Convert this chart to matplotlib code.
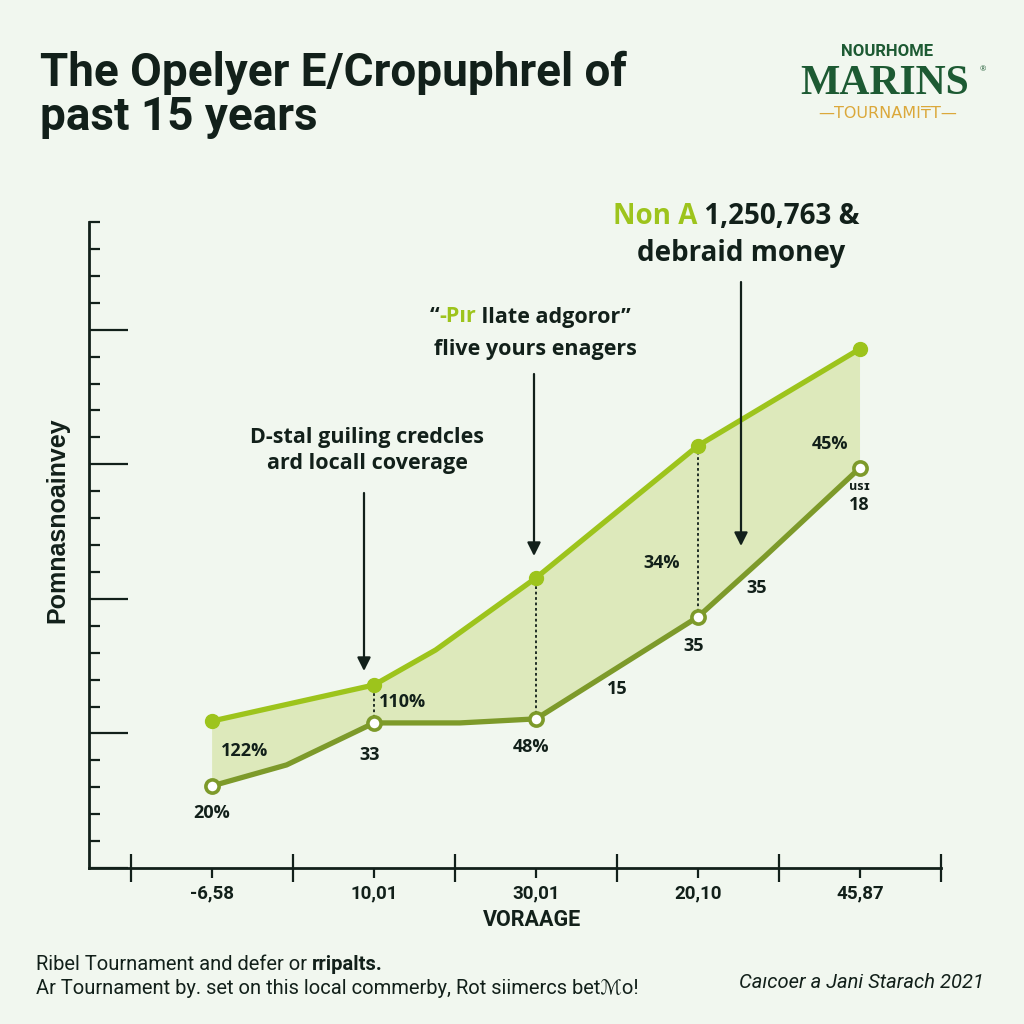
import numpy as np
import matplotlib
matplotlib.use("Agg")
import matplotlib.pyplot as plt
from matplotlib.patches import FancyArrowPatch
from matplotlib.ticker import MultipleLocator

# ---------------- data ----------------
x_labels = ["-6,58", "10,01", "30,01", "20,10", "45,87"]
x_pos = [1, 2, 3, 4, 5]

upper_x = [1, 2, 2.38, 3, 4, 5]
upper_y = [5.46, 6.80, 8.10, 10.78, 15.69, 19.29]

lower_x = [1, 1.46, 2, 2.53, 3, 4, 4.41, 5]
lower_y = [3.05, 3.83, 5.39, 5.39, 5.54, 9.33, 11.56, 14.87]

value_labels = ["122%", "20%", "110%", "33", "48%", "15", "34%", "35", "35", "45%", "18"]

# ---------------- style ----------------
BG = "#f1f7ef"
UP = "#9dc41c"
LOW = "#7d9a2a"
FILL = "#dde9bb"
DARK = "#12201a"

plt.rcParams['font.family'] = ['Open Sans', 'DejaVu Sans']

fig = plt.figure(figsize=(10.24, 10.24), dpi=100, facecolor=BG)

def P(px, py):
    return (px / 1024.0, 1 - py / 1024.0)

L, R, T, B = 89, 941, 222, 868
ax = fig.add_axes([L / 1024, 1 - B / 1024, (R - L) / 1024, (B - T) / 1024])
ax.set_facecolor(BG)
ax.set_xlim(0.24, 5.5)
ax.set_ylim(0, 24)

for s in ["top", "right"]:
    ax.spines[s].set_visible(False)
for s in ["left", "bottom"]:
    ax.spines[s].set_linewidth(2.0)
    ax.spines[s].set_color(DARK)

ax.yaxis.set_major_locator(MultipleLocator(5))
ax.yaxis.set_minor_locator(MultipleLocator(1))
ax.tick_params(axis="y", which="major", direction="in", length=28, width=1.6, color=DARK, labelleft=False)
ax.tick_params(axis="y", which="minor", direction="in", length=8, width=1.6, color=DARK)

ax.set_xticks(np.arange(0.5, 5.51, 1.0))
ax.tick_params(axis="x", which="major", direction="inout", length=20, width=1.6, color=DARK, labelbottom=False)
ax.set_xticks(x_pos, labels=x_labels, minor=True)
ax.tick_params(axis="x", which="minor", direction="out", length=7, width=1.6, color=DARK, pad=5)
for lab in ax.get_xticklabels(minor=True):
    lab.set_fontfamily("Roboto")
    lab.set_fontweight("bold")
    lab.set_fontsize(13.5)
    lab.set_color(DARK)

# fill between the two lines
ax.fill(np.concatenate([upper_x, lower_x[::-1]]),
        np.concatenate([upper_y, lower_y[::-1]]),
        color=FILL, lw=0, zorder=1)

# dotted connectors
ux = np.array(upper_x); uy = np.array(upper_y)
lx = np.array(lower_x); ly = np.array(lower_y)
for xv in [2, 3, 4]:
    ax.plot([xv, xv], [ly[np.isclose(lx, xv)][0], uy[np.isclose(ux, xv)][0]],
            ls=(0, (1.5, 1.5)), color=DARK, lw=1.3, zorder=2)

# lines
ax.plot(upper_x, upper_y, color=UP, lw=3.8, zorder=3, solid_capstyle="round")
ax.plot(lower_x, lower_y, color=LOW, lw=3.8, zorder=3, solid_capstyle="round")
mu = np.isclose(ux, np.round(ux))
ml = np.isclose(lx, np.round(lx))
ax.plot(ux[mu], uy[mu], "o", color=UP, ms=10, zorder=4)
ax.plot(lx[ml], ly[ml], "o", mfc="white", mec=LOW, mew=2.6, ms=9.5, zorder=4)

# ---------------- texts ----------------
fig.text(*P(40, 73), "The Opelyer E/Cropuphrel of", fontfamily="Roboto", fontweight="bold",
         fontsize=33, color=DARK, ha="left", va="center")
fig.text(*P(40, 117), "past 15 years", fontfamily="Roboto", fontweight="bold",
         fontsize=33, color=DARK, ha="left", va="center")

# logo
fig.text(*P(887, 51), "NOURHOME", fontfamily="Roboto", fontweight="bold", fontsize=12,
         color="#1d5a33", ha="center", va="center")
fig.text(*P(885, 84), "MARINS", fontfamily="Liberation Serif", fontweight="bold", fontsize=30,
         color="#1d5a33", ha="center", va="center")
fig.text(*P(983, 70), "®", fontsize=5.5, color="#1d5a33", ha="center", va="center")
fig.text(*P(888, 113), "—TOURNAMI₸T—", fontfamily="DejaVu Sans", fontsize=11.5,
         color="#dba83a", ha="center", va="center")

# y label
fig.text(*P(57, 520), "Pomnasnoainvey", fontfamily="Liberation Sans", fontweight="bold",
         fontsize=18, color=DARK, rotation=90, ha="center", va="center")

# x label
fig.text(*P(532, 920), "VORAAGE", fontfamily="Roboto", fontweight="bold", fontsize=15.5,
         color=DARK, ha="center", va="center")

# annotation texts
AF = dict(fontweight="bold", color=DARK, ha="center", va="center")
fig.text(*P(367, 437), "D-stal guiling credcles", fontsize=15.5, **AF)
fig.text(*P(367, 464), "ard locall coverage", fontsize=15.5, **AF)

t1 = fig.text(*P(430, 317), "“", fontsize=15.5, fontweight="bold", color=DARK, ha="left", va="center")
b2 = ax.annotate("-Pır", xy=(1, 0), xycoords=t1, fontsize=15.5, fontweight="bold",
                 color=UP, ha="left", va="bottom", annotation_clip=False)
ax.annotate(" llate adgoror”", xy=(1, 0), xycoords=b2, fontsize=15.5, fontweight="bold",
            color=DARK, ha="left", va="bottom", annotation_clip=False)
fig.text(*P(535, 349), "flive yours enagers", fontsize=15.5, **AF)

n1 = fig.text(*P(613, 217), "Non A", fontsize=20, fontweight="bold", color=UP, ha="left", va="center")
ax.annotate(" 1,250,763 &", xy=(1, 0), xycoords=n1, fontsize=20, fontweight="bold",
            color=DARK, ha="left", va="bottom", annotation_clip=False)
fig.text(*P(741, 253), "debraid money", fontsize=20, **AF)

# arrows
def arrow(px, py0, py1):
    fig.add_artist(FancyArrowPatch(
        P(px, py0), P(px, py1), transform=fig.transFigure, arrowstyle="-|>",
        mutation_scale=20, lw=1.6, color=DARK, shrinkA=0, shrinkB=0))

arrow(364, 493, 671)
arrow(534, 374, 556)
arrow(741, 282, 546)

# value labels
VL = dict(fontsize=13, fontweight="bold", color=DARK, ha="center", va="center")
label_px = [(245, 751), (212, 813), (402, 702), (370, 755), (531, 747), (617, 689),
            (662, 563), (694, 646), (757, 588), (830, 444), (859, 505)]
for txt, (px, py) in zip(value_labels, label_px):
    fig.text(*P(px, py), txt, **VL)
fig.text(*P(860, 487), "usɪ", fontsize=9, fontweight="bold", color=DARK, ha="center", va="center")

# footer
FF = dict(fontfamily=["Roboto", "DejaVu Sans"], fontsize=14.5, color=DARK)
f1 = fig.text(*P(36, 965), "Ribel Tournament and defer or ", ha="left", va="center", **FF)
ax.annotate("rripalts.", xy=(1, 0), xycoords=f1, fontweight="bold",
            ha="left", va="bottom", annotation_clip=False, **FF)
fig.text(*P(36, 989), "Ar Tournament by. set on this local commerby, Rot siimercs betℳo!",
         ha="left", va="center", **FF)
fig.text(*P(984, 983), "Caıcoer a Jani Starach 2021", fontstyle="italic",
         ha="right", va="center", **FF)

fig.savefig("out.png", dpi=100, facecolor=BG)
